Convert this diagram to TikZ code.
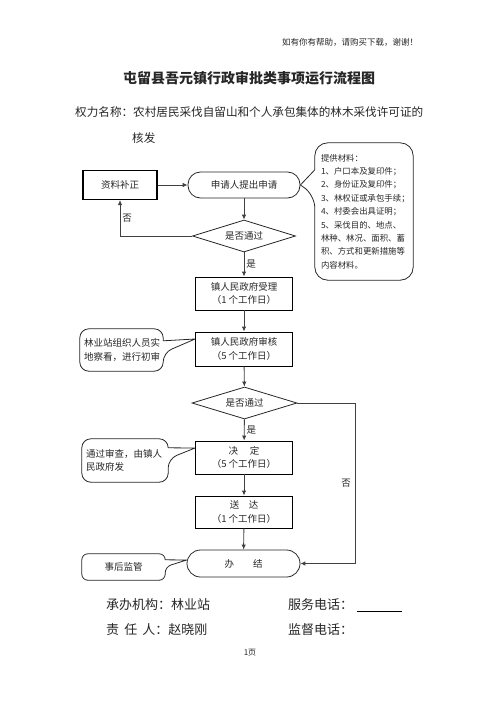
\documentclass[tikz,border=0pt]{standalone}
\usepackage{fontspec}
\setmainfont{Noto Sans CJK SC}
\usetikzlibrary{arrows.meta,shapes.geometric,calc}
\begin{document}
\begin{tikzpicture}[x=1pt,y=-1pt,
  font=\fontsize{9.5}{13.5}\selectfont,
  every node/.style={text=black!85},
  box/.style={draw=black, line width=0.9pt, minimum width=97pt, minimum height=33pt, align=center, inner sep=0pt},
  term/.style={draw=black!85, line width=0.8pt, rounded corners=12.5pt, minimum width=112pt, minimum height=26pt, inner sep=0pt},
  dia/.style={draw=black!85, line width=0.8pt, diamond, aspect=3.2, minimum width=103pt, minimum height=32pt, inner sep=0pt},
  calloutbox/.style={inner sep=0pt, align=left},
  callline/.style={draw=black!85, line width=0.8pt, line join=round},
  arr/.style={draw=black!75, line width=0.9pt, -{Latex[length=5pt,width=4.5pt]}},
  lbl/.style={font=\fontsize{9.5}{11}\selectfont, inner sep=2pt},
  foot/.style={font=\fontsize{13}{15}\selectfont, anchor=west, inner sep=0pt}
]
\useasboundingbox (0,0) rectangle (496,702);

% header and titles
\node[font=\fontsize{8.5}{10}\selectfont] (hdr) at (350,42) {如有你有帮助，请购买下载，谢谢！};
\node[font=\fontsize{14}{16}\selectfont\bfseries] (title) at (249,78) {屯留县吾元镇行政审批类事项运行流程图};
\node[font=\fontsize{11.6}{14}\selectfont, anchor=west, inner sep=0pt] (sub1) at (75,112) {权力名称：农村居民采伐自留山和个人承包集体的林木采伐许可证的};
\node[font=\fontsize{11.6}{14}\selectfont, anchor=west, inner sep=0pt] (sub2) at (132,138) {核发};

% flow nodes
\node[box, line width=1.1pt, minimum width=74pt, minimum height=29pt] (bz) at (120,185) {资料补正};
\node[term] (sq) at (244,185) {申请人提出申请};
\node[dia] (d1) at (244,236) {是否通过};
\node[box] (sl) at (244,293.5) {镇人民政府受理\\（1 个工作日）};
\node[box, minimum height=34pt] (sh) at (244,349) {镇人民政府审核\\（5 个工作日）};
\node[dia, minimum width=105pt] (d2) at (244.5,403) {是否通过};
\node[box] (jd) at (244,457.5) {决\quad\ 定\\（5 个工作日）};
\node[box, minimum height=32pt] (sd) at (244,512) {送\quad 达\\（1 个工作日）};
\node[term, minimum width=113pt, minimum height=27pt, rounded corners=13.5pt] (bj) at (243.5,563.5) {办\qquad 结};

% callouts
\node[calloutbox, minimum width=83pt, minimum height=42pt, text width=75pt] (c1) at (121.5,350) {林业站组织人员实\\地察看，进行初审};
\draw[callline, rounded corners=9pt] ([yshift=-12pt]c1.north east) -- (c1.north east) -- (c1.north west)
  -- (c1.south west) -- (c1.south east) -- ([yshift=-24pt]c1.north east)
  [sharp corners] -- ([yshift=10pt]sh.west) -- ([yshift=-12pt]c1.north east);

\node[calloutbox, minimum width=86pt, minimum height=43pt, text width=78pt] (c2) at (125,460.5) {通过审查，由镇人\\民政府发};
\draw[callline, rounded corners=9pt] ([yshift=-9pt]c2.north east) -- (c2.north east) -- (c2.north west)
  -- (c2.south west) -- (c2.south east) -- ([yshift=-20pt]c2.north east)
  [sharp corners] -- ([yshift=9.5pt]jd.west) -- ([yshift=-9pt]c2.north east);

\node[calloutbox, minimum width=83pt, minimum height=26pt, align=center] (c3) at (123.5,567) {事后监管};
\draw[callline, rounded corners=6pt] ([yshift=-6pt]c3.north east) -- (c3.north east) -- (c3.north west)
  -- (c3.south west) -- (c3.south east) -- ([yshift=-13pt]c3.north east)
  [sharp corners] -- ([yshift=3.5pt]bj.west) -- ([yshift=-6pt]c3.north east);

\node[calloutbox, minimum width=98pt, minimum height=137pt, text width=86pt,
  font=\fontsize{8.4}{13.4}\selectfont] (c4) at (364,211.5)
  {提供材料：\\1、户口本及复印件；\\2、身份证及复印件；\\3、林权证或承包手续；\\4、村委会出具证明；\\5、采伐目的、地点、\\林种、林况、面积、蓄\\积、方式和更新措施等\\内容材料。};
\draw[callline, rounded corners=13pt] ([yshift=-27pt]c4.north west) -- (c4.north west) -- (c4.north east)
  -- (c4.south east) -- (c4.south west) -- ([yshift=-52pt]c4.north west)
  [sharp corners] -- (sq.east) -- ([yshift=-27pt]c4.north west);

% connectors
\draw[arr] (bz) -- (sq);
\draw[arr] (sq) -- (d1);
\draw[arr] (d1.west) -| node[lbl, pos=0.75, right] {否} (bz.south);
\draw[arr] (d1) -- node[lbl, right] {是} (sl);
\draw[arr] (sl) -- (sh);
\draw[arr] (sh) -- (d2);
\draw[arr] (d2) -- node[lbl, right] {是} (jd);
\draw[arr] (jd) -- (sd);
\draw[arr] (sd) -- (bj);
\draw[arr] (d2.east) -- ++(58,0) |- node[lbl, pos=0.25, left, xshift=-2pt] {否} (bj.east);

% footer
\node[foot] (f1) at (106,605) {承办机构：林业站};
\node[foot] (f2) at (288,605) {服务电话：};
\coordinate (ul) at (357,611);
\draw[line width=0.8pt] (ul) -- ++(45,0);
\node[foot] (f3) at (106,630) {责\,\ 任\,\ 人：赵晓刚};
\node[foot] (f4) at (288,630) {监督电话：};
\node[font=\fontsize{8}{10}\selectfont] (pg) at (250,653) {1页};
\end{tikzpicture}
\end{document}
